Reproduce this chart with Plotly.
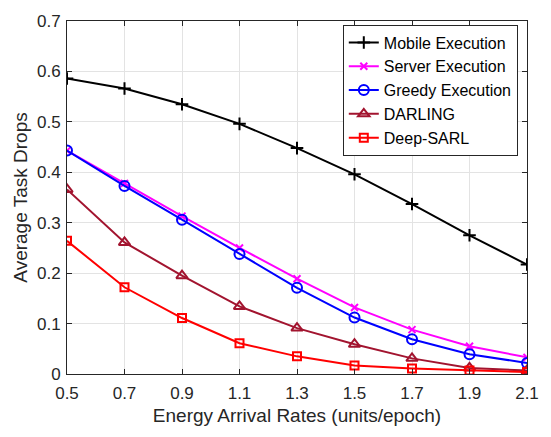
import plotly.graph_objects as go

x = [0.5, 0.7, 0.9, 1.1, 1.3, 1.5, 1.7, 1.9, 2.1]
mobile = [0.586, 0.566, 0.535, 0.496, 0.448, 0.396, 0.337, 0.275, 0.217]
server = [0.443, 0.378, 0.313, 0.250, 0.189, 0.132, 0.088, 0.055, 0.033]
greedy = [0.443, 0.373, 0.306, 0.238, 0.171, 0.112, 0.069, 0.039, 0.022]
darling = [0.366, 0.261, 0.195, 0.134, 0.091, 0.059, 0.031, 0.012, 0.007]
deepsarl = [0.264, 0.172, 0.111, 0.061, 0.035, 0.017, 0.011, 0.007, 0.004]

names = ["Mobile Execution", "Server Execution", "Greedy Execution", "DARLING", "Deep-SARL"]
colors = ["#000000", "#FF00FF", "#0000FF", "#A2142F", "#FF0000"]
symbols = ["cross-thin-open", "x-thin-open", "circle-open", "triangle-up-open", "square-open"]
sizes = [9, 7, 10, 10, 8]
series = [mobile, server, greedy, darling, deepsarl]

fig = go.Figure()
for n, c, s, sz, y in zip(names, colors, symbols, sizes, series):
    fig.add_trace(go.Scatter(
        x=x, y=y, name=n, mode="lines+markers",
        line=dict(color=c, width=2),
        marker=dict(symbol=s, size=sz, color=c, line=dict(color=c, width=2)),
    ))

axis_common = dict(
    showline=True, linecolor="#262626", linewidth=1, mirror="ticks",
    ticks="inside", ticklen=5, tickcolor="#262626",
    showgrid=True, gridcolor="#E3E3E3", gridwidth=1, zeroline=False,
    tickfont=dict(family="Liberation Sans, Arial", size=17, color="#262626"),
)

fig.update_layout(
    width=551, height=437,
    margin=dict(l=67, r=14, t=13, b=63),
    paper_bgcolor="white", plot_bgcolor="white",
    font=dict(family="Liberation Sans, Arial", color="#262626"),
    xaxis=dict(range=[0.5, 2.1], tickvals=x, ticktext=[f"{v:.1f}" for v in x],
               ticklabelstandoff=4,
               title=dict(text="Energy Arrival Rates (units/epoch)", font=dict(size=19), standoff=6),
               **axis_common),
    yaxis=dict(range=[0, 0.7], tickvals=[0, 0.1, 0.2, 0.3, 0.4, 0.5, 0.6, 0.7],
               ticktext=["0", "0.1", "0.2", "0.3", "0.4", "0.5", "0.6", "0.7"],
               ticklabelstandoff=2,
               title=dict(text="Average Task Drops", font=dict(size=19), standoff=4),
               **axis_common),
    legend=dict(x=0.98, y=0.99, xanchor="right", yanchor="top",
                bgcolor="white", bordercolor="#262626", borderwidth=1,
                font=dict(size=16, color="#000000"), tracegroupgap=0,
                itemwidth=30),
    showlegend=True,
)

fig.write_html("out.html")
